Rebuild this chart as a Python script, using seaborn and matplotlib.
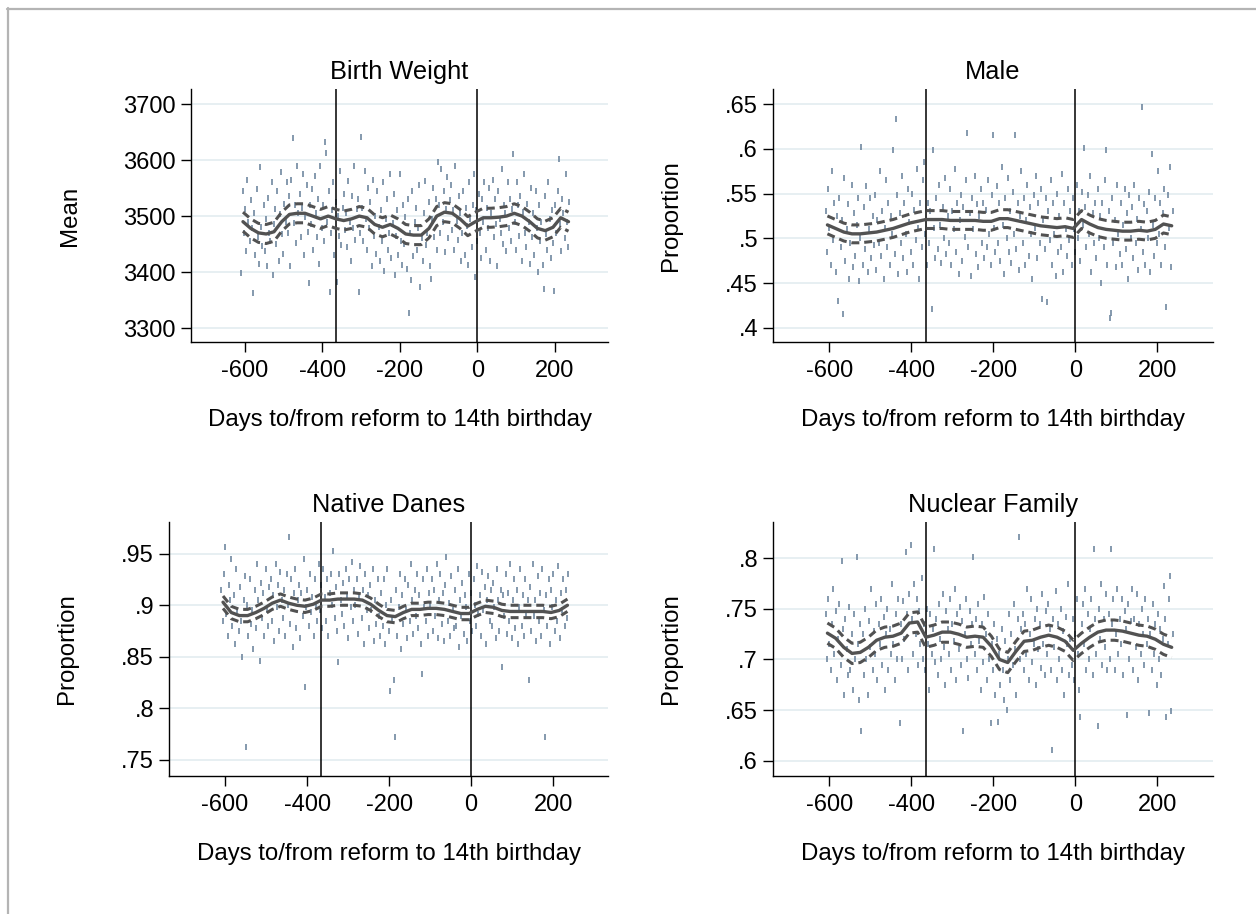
import numpy as np
import matplotlib
matplotlib.use("Agg")
import matplotlib.pyplot as plt
from matplotlib.lines import Line2D
import seaborn as sns

sns.set_style("ticks")
plt.rcParams["font.family"] = ["Liberation Sans", "DejaVu Sans"]
plt.rcParams["text.color"] = "black"
plt.rcParams["axes.labelcolor"] = "black"

# daily means, read every 3rd day off the picture
days = np.arange(-609, 238, 3)
# knots of the local smooth
fit_days = np.arange(-605, 236, 20)

birth_weight = [
    3399, 3545, 3470, 3512, 3438, 3565, 3490, 3455, 3528, 3478,
    3362, 3505, 3430, 3548, 3462, 3415, 3587, 3480, 3447, 3520,
    3438, 3495, 3410, 3532, 3470, 3455, 3560, 3395, 3486, 3512,
    3450, 3545, 3420, 3503, 3578, 3468, 3432, 3522, 3490, 3560,
    3470, 3535, 3410, 3565, 3639, 3488, 3520, 3452, 3590, 3505,
    3540, 3462, 3515, 3575, 3430, 3498, 3555, 3472, 3381, 3520,
    3485, 3548, 3440, 3572, 3505, 3462, 3530, 3415, 3590, 3478,
    3520, 3455, 3633, 3612, 3490, 3545, 3364, 3470, 3510, 3560,
    3430, 3525, 3383, 3500, 3465, 3580, 3448, 3515, 3540, 3475,
    3505, 3445, 3562, 3490, 3420, 3535, 3478, 3590, 3458, 3512,
    3530, 3364, 3470, 3642, 3515, 3455, 3580, 3495, 3440, 3550,
    3478, 3525, 3410, 3565, 3465, 3500, 3432, 3545, 3480, 3420,
    3510, 3455, 3560, 3402, 3495, 3530, 3440, 3470, 3575, 3425,
    3488, 3540, 3395, 3465, 3510, 3430, 3575, 3455, 3412, 3520,
    3450, 3498, 3405, 3530, 3327, 3470, 3385, 3545, 3428, 3490,
    3515, 3440, 3478, 3555, 3374, 3460, 3420, 3505, 3562, 3448,
    3470, 3525, 3410, 3388, 3495, 3550, 3462, 3530, 3440, 3597,
    3520, 3470, 3585, 3490, 3545, 3435, 3512, 3570, 3460, 3528,
    3555, 3475, 3510, 3440, 3590, 3492, 3458, 3535, 3505, 3420,
    3470, 3545, 3430, 3515, 3482, 3412, 3560, 3495, 3445, 3520,
    3575, 3392, 3510, 3455, 3540, 3470, 3425, 3530, 3490, 3560,
    3440, 3515, 3478, 3550, 3420, 3505, 3565, 3462, 3530, 3485,
    3410, 3545, 3495, 3470, 3585, 3450, 3520, 3505, 3438, 3560,
    3478, 3530, 3455, 3512, 3611, 3490, 3440, 3560, 3520, 3465,
    3535, 3420, 3508, 3575, 3470, 3445, 3522, 3490, 3415, 3550,
    3462, 3505, 3430, 3545, 3478, 3400, 3520, 3455, 3490, 3412,
    3370, 3535, 3468, 3440, 3560, 3495, 3425, 3510, 3452, 3367,
    3520, 3470, 3545, 3602, 3485, 3438, 3530, 3505, 3460, 3575,
    3490, 3445, 3525,
]
male = [
    .530, .485, .555, .512, .470, .575, .498, .540, .462, .525,
    .430, .545, .490, .520, .415, .568, .475, .510, .538, .455,
    .495, .560, .468, .528, .480, .515, .545, .452, .500, .602,
    .470, .535, .488, .558, .462, .510, .545, .478, .525, .492,
    .548, .465, .520, .495, .575, .480, .530, .455, .512, .565,
    .490, .540, .470, .525, .505, .599, .482, .633, .548, .460,
    .528, .495, .570, .478, .540, .505, .462, .555, .518, .485,
    .550, .470, .532, .498, .578, .512, .455, .540, .490, .565,
    .585, .505, .470, .540, .495, .530, .421, .599, .512, .478,
    .545, .488, .560, .515, .472, .535, .500, .568, .482, .525,
    .495, .555, .470, .530, .510, .578, .485, .540, .460, .520,
    .548, .475, .535, .502, .565, .618, .490, .528, .458, .545,
    .510, .570, .482, .538, .468, .525, .555, .495, .540, .478,
    .532, .490, .565, .505, .470, .548, .616, .512, .485, .558,
    .495, .540, .475, .580, .515, .460, .545, .500, .568, .485,
    .530, .472, .552, .505, .616, .488, .540, .465, .525, .575,
    .495, .545, .470, .520, .560, .480, .535, .505, .455, .548,
    .512, .570, .478, .540, .495, .555, .432, .520, .488, .545,
    .429, .530, .498, .565, .470, .540, .505, .458, .550, .485,
    .525, .490, .572, .462, .540, .510, .480, .555, .498, .530,
    .470, .545, .510, .485, .560, .500, .530, .475, .552, .515,
    .601, .535, .490, .548, .505, .570, .462, .528, .495, .540,
    .478, .555, .500, .525, .450, .540, .490, .565, .599, .470,
    .530, .411, .417, .545, .495, .520, .468, .560, .505, .482,
    .540, .470, .515, .555, .488, .528, .455, .548, .500, .535,
    .478, .560, .495, .522, .465, .545, .510, .647, .485, .538,
    .470, .530, .500, .552, .462, .594, .515, .480, .545, .495,
    .575, .505, .540, .470, .528, .555, .490, .423, .548, .512,
    .580, .468, .530,
]
native_danes = [
    .915, .885, .930, .956, .892, .870, .920, .905, .945, .880,
    .910, .862, .935, .895, .875, .918, .885, .850, .905, .928,
    .763, .900, .870, .925, .882, .895, .858, .915, .878, .940,
    .905, .846, .922, .888, .912, .870, .935, .895, .880, .918,
    .925, .885, .910, .865, .940, .898, .920, .875, .932, .905,
    .888, .915, .870, .930, .900, .966, .882, .925, .860, .912,
    .935, .878, .905, .920, .868, .912, .890, .945, .821, .898,
    .915, .880, .930, .893, .908, .870, .925, .900, .885, .940,
    .895, .920, .878, .935, .908, .885, .925, .870, .912, .930,
    .900, .953, .888, .918, .875, .845, .930, .905, .892, .922,
    .880, .935, .910, .868, .925, .898, .942, .885, .915, .900,
    .925, .872, .908, .938, .888, .915, .862, .930, .895, .910,
    .878, .920, .895, .935, .865, .905, .882, .925, .890, .870,
    .912, .880, .925, .862, .900, .935, .875, .817, .905, .888,
    .828, .772, .915, .870, .898, .930, .858, .910, .882, .925,
    .895, .868, .920, .885, .940, .905, .872, .915, .890, .930,
    .878, .910, .862, .833, .925, .898, .885, .935, .870, .912,
    .900, .925, .875, .915, .890, .940, .868, .905, .930, .882,
    .912, .865, .920, .947, .885, .902, .870, .928, .895, .878,
    .915, .880, .935, .860, .905, .890, .922, .872, .910, .898,
    .865, .930, .885, .912, .875, .925, .900, .880, .938, .892,
    .910, .870, .932, .895, .918, .862, .905, .928, .885, .915,
    .880, .922, .898, .868, .935, .905, .875, .915, .840, .910,
    .890, .930, .872, .912, .885, .940, .868, .905, .925, .878,
    .915, .862, .898, .935, .880, .910, .870, .925, .892, .905,
    .828, .918, .875, .940, .890, .905, .865, .928, .885, .912,
    .870, .935, .895, .772, .910, .880, .925, .862, .915, .898,
    .930, .875, .905, .885, .938, .868, .912, .895, .925, .880,
    .915, .888, .930,
]
nuclear_family = [
    .745, .700, .760, .715, .690, .735, .770, .705, .748, .680,
    .720, .755, .695, .797, .730, .665, .740, .710, .685, .752,
    .690, .725, .670, .745, .700, .801, .715, .660, .735, .629,
    .725, .685, .750, .700, .665, .738, .712, .770, .690, .728,
    .705, .755, .680, .735, .715, .760, .695, .742, .670, .725,
    .750, .690, .730, .705, .775, .715, .680, .745, .700, .760,
    .637, .735, .700, .758, .720, .806, .745, .690, .765, .813,
    .740, .705, .775, .725, .760, .695, .748, .715, .780, .700,
    .735, .690, .750, .715, .670, .745, .705, .730, .809, .698,
    .740, .685, .755, .720, .700, .765, .712, .675, .748, .730,
    .705, .760, .690, .735, .718, .770, .680, .745, .710, .752,
    .695, .738, .629, .725, .760, .700, .682, .748, .715, .735,
    .801, .705, .740, .690, .755, .718, .670, .735, .698, .762,
    .725, .680, .745, .700, .637, .715, .690, .735, .665, .720,
    .638, .705, .675, .730, .690, .660, .718, .650, .700, .745,
    .680, .725, .695, .755, .710, .665, .740, .821, .700, .730,
    .745, .690, .735, .705, .770, .680, .725, .760, .698, .715,
    .740, .675, .750, .710, .735, .692, .765, .715, .685, .748,
    .705, .755, .730, .690, .611, .740, .712, .768, .680, .735,
    .700, .750, .690, .728, .665, .742, .715, .775, .685, .720,
    .695, .740, .680, .725, .760, .705, .670, .643, .735, .755,
    .715, .770, .690, .745, .700, .730, .760, .685, .809, .740,
    .705, .634, .750, .720, .775, .695, .740, .712, .765, .690,
    .745, .700, .809, .735, .760, .690, .725, .770, .705, .740,
    .715, .760, .685, .748, .730, .645, .755, .700, .738, .770,
    .690, .740, .712, .765, .680, .735, .705, .750, .725, .695,
    .760, .715, .740, .647, .725, .690, .755, .705, .735, .675,
    .745, .700, .730, .685, .720, .773, .740, .643, .715, .760,
    .782, .649, .725,
]

bw_fit = [3490, 3478, 3470, 3468, 3472, 3490, 3503, 3505, 3505, 3500, 3495,
          3500, 3495, 3492, 3495, 3500, 3497, 3485, 3480, 3485, 3478, 3468,
          3466, 3466, 3478, 3500, 3507, 3505, 3495, 3482, 3490, 3497, 3497,
          3498, 3500, 3505, 3500, 3490, 3478, 3474, 3480, 3497, 3490]
male_fit = [.515, .511, .507, .505, .505, .506, .507, .509, .511, .514, .517,
            .519, .521, .521, .521, .520, .520, .520, .520, .519, .519, .522,
            .522, .520, .518, .516, .514, .513, .512, .513, .511, .521, .516,
            .512, .510, .509, .508, .508, .509, .508, .510, .516, .514]
danes_fit = [.903, .893, .890, .890, .893, .897, .902, .905, .902, .900, .899,
             .901, .905, .905, .906, .906, .906, .905, .901, .895, .890, .889,
             .893, .896, .896, .897, .897, .896, .894, .892, .892, .896, .899,
             .898, .895, .894, .894, .894, .894, .894, .893, .895, .900]
nuclear_fit = [.726, .721, .712, .706, .707, .712, .719, .722, .723, .726, .736,
               .737, .722, .724, .727, .727, .725, .722, .723, .722, .713, .700,
               .697, .708, .718, .719, .722, .724, .722, .718, .709, .716, .722,
               .727, .729, .729, .728, .726, .724, .723, .720, .715, .712]

# half width of the confidence band
bw_ci, male_ci, danes_ci, nuclear_ci = 17, .010, .006, .010

titles = ["Birth Weight", "Male", "Native Danes", "Nuclear Family"]
ylabels = ["Mean", "Proportion", "Proportion", "Proportion"]
yticks = [[3300, 3400, 3500, 3600, 3700],
          [.4, .45, .5, .55, .6, .65],
          [.75, .8, .85, .9, .95],
          [.6, .65, .7, .75, .8]]
ytick_labels = [["3300", "3400", "3500", "3600", "3700"],
                [".4", ".45", ".5", ".55", ".6", ".65"],
                [".75", ".8", ".85", ".9", ".95"],
                [".6", ".65", ".7", ".75", ".8"]]
xticks = [-600, -400, -200, 0, 200]
cutoffs = [-365, 0]

panels = [
    (birth_weight, bw_fit, bw_ci, [.1521, .6258, .3320, .2768], (3275, 3727), (-739, 337), -0.264),
    (male, male_fit, male_ci, [.6157, .6258, .3498, .2768], (.384, .667), (-737, 335), -0.208),
    (native_danes, danes_fit, danes_ci, [.1348, .1510, .3493, .2782], (.7345, .981), (-736, 334), -0.208),
    (nuclear_family, nuclear_fit, nuclear_ci, [.6157, .1510, .3498, .2782], (.585, .836), (-737, 335), -0.208),
]

fig = plt.figure(figsize=(12.56, 9.14), dpi=100)
fig.add_artist(Line2D([7.5 / 1256, 7.5 / 1256], [0, 1 - 8 / 914], color="#b4b4b4", lw=1.6))
fig.add_artist(Line2D([7 / 1256, 1], [1 - 8.5 / 914] * 2, color="#b4b4b4", lw=1.6))

dot_color = "#6f87a0"
line_color = "#525252"

for i, (pts, fit, hw, rect, ylim, xlim, ylab_x) in enumerate(panels):
    ax = fig.add_axes(rect)
    ax.set_axisbelow(True)
    ax.yaxis.grid(True, color="#e5eef1", lw=1.3)
    sns.scatterplot(x=days, y=pts, ax=ax, marker="|", s=16, linewidth=1.2,
                    color=dot_color, zorder=2)
    for c in cutoffs:
        ax.axvline(c, color="black", lw=1.1, zorder=3)
    fit = np.array(fit)
    sns.lineplot(x=fit_days, y=fit, ax=ax, color=line_color, lw=2.4, zorder=4)
    for band in (fit + hw, fit - hw):
        sns.lineplot(x=fit_days, y=band, ax=ax, color=line_color, lw=2.2,
                     linestyle=(0, (2.6, 1.6)), zorder=4)

    ax.set_xlim(*xlim)
    ax.set_ylim(*ylim)
    ax.set_xticks(xticks)
    ax.set_xticklabels([str(t) for t in xticks])
    ax.set_yticks(yticks[i])
    ax.set_yticklabels(ytick_labels[i])
    sns.despine(ax=ax)
    for side in ("left", "bottom"):
        ax.spines[side].set_linewidth(1.0)
        ax.spines[side].set_color("black")
    ax.tick_params(axis="both", length=7, width=1.0, color="black",
                   labelsize=17, labelcolor="black")
    ax.tick_params(axis="x", pad=6)
    ax.tick_params(axis="y", pad=4)

    ax.set_title(titles[i], fontsize=18.3, pad=7, color="black")
    ax.set_ylabel(ylabels[i], fontsize=17.3)
    ax.set_xlabel("Days to/from reform to 14th birthday", fontsize=17.3)
    ax.yaxis.set_label_coords(ylab_x, 0.5)
    ax.xaxis.set_label_coords(0.5, -0.265)

fig.savefig("out.png", dpi=100)
